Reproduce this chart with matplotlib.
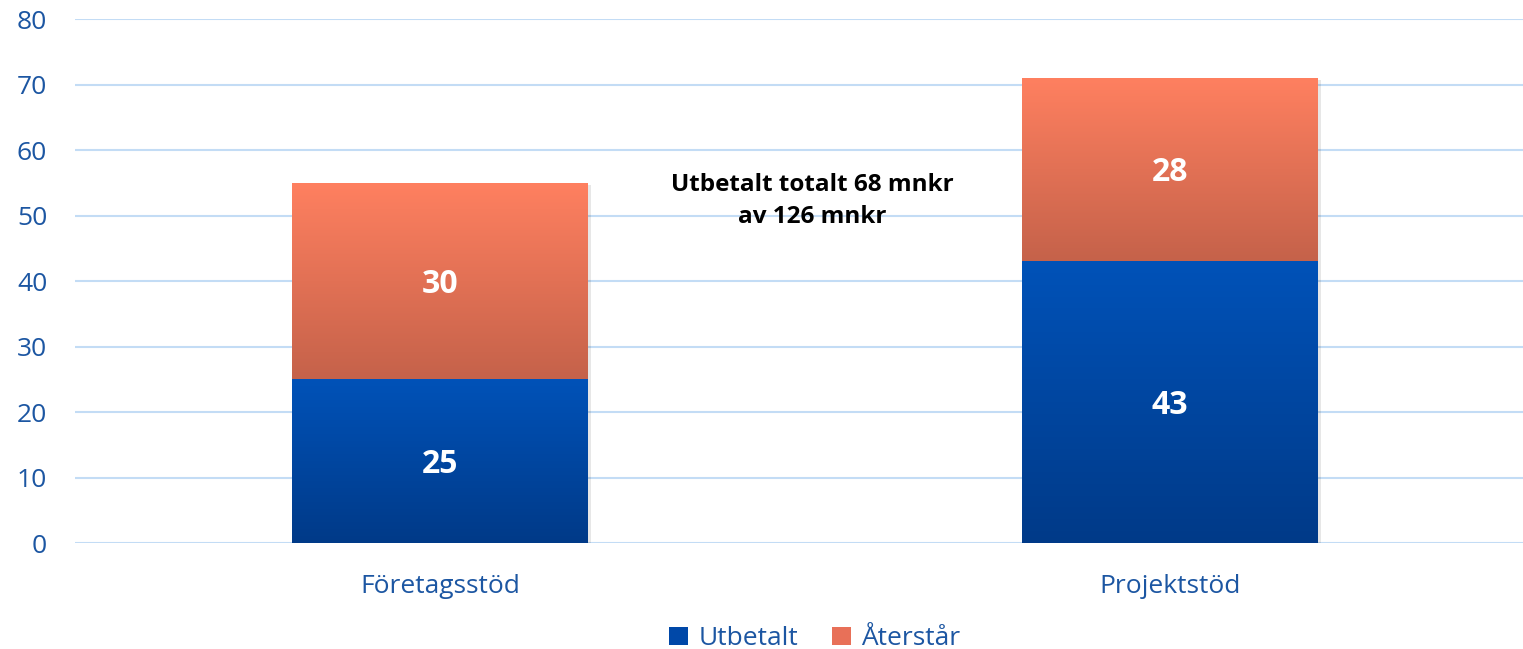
import numpy as np
import matplotlib.pyplot as plt
from matplotlib.colors import LinearSegmentedColormap
from matplotlib.patches import Patch

categories = ['Företagsstöd', 'Projektstöd']
utbetalt = [25, 43]
aterstar = [30, 28]
series_names = ['Utbetalt', 'Återstår']
yticks = [0, 10, 20, 30, 40, 50, 60, 70, 80]
note = 'Utbetalt totalt 68 mnkr\nav 126 mnkr'

plt.rcParams['font.family'] = ['Open Sans', 'DejaVu Sans']
txt_blue = '#1C56A2'

blue_cm = LinearSegmentedColormap.from_list('b', ['#003A88', '#0052B8'])
orange_cm = LinearSegmentedColormap.from_list('o', ['#C5624A', '#FF8060'])

fig = plt.figure(figsize=(15.23, 6.49), dpi=100)
ax = fig.add_axes([0.0492, 0.1633, 0.9586, 0.8074])

x = np.arange(len(categories))
w = 0.405
b1 = ax.bar(x, utbetalt, w, color='#0048A8', zorder=3)
b2 = ax.bar(x, aterstar, w, bottom=utbetalt, color='#E87058', zorder=3)

grad = np.linspace(0, 1, 256).reshape(-1, 1)
for bars, cm in ((b1, blue_cm), (b2, orange_cm)):
    for bar in bars:
        x0, y0 = bar.get_x(), bar.get_y()
        im = ax.imshow(grad, cmap=cm, origin='lower', aspect='auto',
                       extent=[x0, x0 + bar.get_width(), y0, y0 + bar.get_height()],
                       zorder=4)
        im.set_clip_path(bar)
        # light shadow
        ax.bar(x0 + bar.get_width() / 2 + 0.004, bar.get_height(), bar.get_width(),
               bottom=y0 - 0.35, color='#00000018', zorder=2)

for i in range(len(categories)):
    ax.text(x[i], utbetalt[i] / 2 - 0.5, str(utbetalt[i]), ha='center', va='center',
            color='white', fontsize=23, fontweight='bold', zorder=5)
    ax.text(x[i], utbetalt[i] + aterstar[i] / 2 - 0.5, str(aterstar[i]), ha='center', va='center',
            color='white', fontsize=23, fontweight='bold', zorder=5)

ax.text(0.51, 52.2, note, ha='center', va='center', fontsize=17.5,
        fontweight='bold', color='black', linespacing=1.45, zorder=5)

ax.set_xlim(-0.5, 1.5)
ax.set_ylim(0, 80)
ax.set_yticks(yticks)
ax.set_xticks(x)
ax.set_xticklabels(categories)
ax.tick_params(axis='both', length=0, labelsize=19, labelcolor=txt_blue)
ax.tick_params(axis='y', pad=20)
ax.tick_params(axis='x', pad=22)
ax.grid(axis='y', color='#C3DCF5', linewidth=1.5, zorder=0)
for s in ax.spines.values():
    s.set_visible(False)

handles = [Patch(facecolor='#0048A8'), Patch(facecolor='#E87058')]
fig.legend(handles, series_names, loc='lower center', bbox_to_anchor=(0.535, -0.04),
           ncol=2, frameon=False, fontsize=19, labelcolor=txt_blue,
           handlelength=0.7, handleheight=0.7, handletextpad=0.4, columnspacing=1.3)

fig.savefig('out.png', dpi=100)
